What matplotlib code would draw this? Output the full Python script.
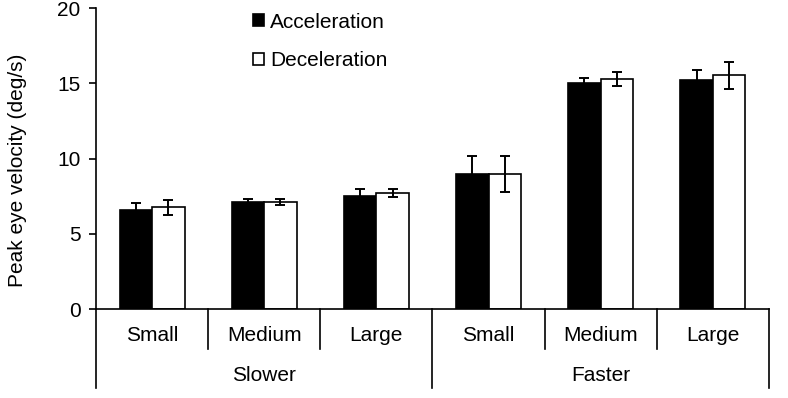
import matplotlib.pyplot as plt
import matplotlib.transforms as mtransforms
import numpy as np

plt.rcParams['font.family'] = ['Liberation Sans', 'DejaVu Sans']

# Data
sizes = ['Small', 'Medium', 'Large', 'Small', 'Medium', 'Large']
groups = ['Slower', 'Faster']
accel = [6.6, 7.1, 7.5, 9.0, 15.0, 15.2]
accel_err = [0.45, 0.2, 0.45, 1.2, 0.35, 0.7]
decel = [6.75, 7.1, 7.7, 9.0, 15.3, 15.55]
decel_err = [0.5, 0.2, 0.25, 1.2, 0.47, 0.9]

x = np.arange(len(sizes))
w = 0.29
fs = 15

fig = plt.figure(figsize=(7.88, 3.98), dpi=100)
ax = fig.add_axes([0.1218, 0.2236, 0.854, 0.756])

b1 = ax.bar(x - w / 2, accel, w, color='black', edgecolor='black', linewidth=1.2, label='Acceleration')
b2 = ax.bar(x + w / 2, decel, w, color='white', edgecolor='black', linewidth=1.2, label='Deceleration')

# error bars (lower half of acceleration ones disappears inside the black bar)
ax.errorbar(x - w / 2, accel, yerr=accel_err, fmt='none', ecolor='black', elinewidth=1.4,
            capsize=3.5, capthick=1.4)
ax.errorbar(x + w / 2, decel, yerr=decel_err, fmt='none', ecolor='black', elinewidth=1.4,
            capsize=3.5, capthick=1.4)

ax.set_xlim(-0.5, len(sizes) - 0.5)
ax.set_ylim(0, 20)
ax.set_yticks([0, 5, 10, 15, 20])
ax.tick_params(axis='y', direction='out', length=5, width=1.2, labelsize=fs, pad=6)
ax.set_ylabel('Peak eye velocity (deg/s)', fontsize=15)
ax.yaxis.set_label_coords(-0.103, 0.462)

ax.spines['top'].set_visible(False)
ax.spines['right'].set_visible(False)
ax.spines['left'].set_linewidth(1.2)
ax.spines['bottom'].set_linewidth(1.2)

ax.set_xticks([])
trans = mtransforms.blended_transform_factory(ax.transData, ax.transAxes)

# inner category labels and dividers
for i, s in enumerate(sizes):
    ax.text(i, -0.088, s, transform=trans, ha='center', va='center', fontsize=fs)
for i in range(len(sizes) + 1):
    xb = i - 0.5
    if i % 3 == 0:
        ax.plot([xb, xb], [0, -0.262], transform=trans, color='black', lw=1.2, clip_on=False)
    else:
        ax.plot([xb, xb], [0, -0.133], transform=trans, color='black', lw=1.2, clip_on=False)

# outer group labels
for j, g in enumerate(groups):
    ax.text(j * 3 + 1, -0.221, g, transform=trans, ha='center', va='center', fontsize=fs)

ax.legend(handles=[b1, b2], loc='upper left', bbox_to_anchor=(0.218, 1.02), frameon=False,
          fontsize=fs, handlelength=0.5, handleheight=0.5, handletextpad=0.3,
          labelspacing=0.95, borderpad=0)

fig.savefig('out.png', dpi=100)
